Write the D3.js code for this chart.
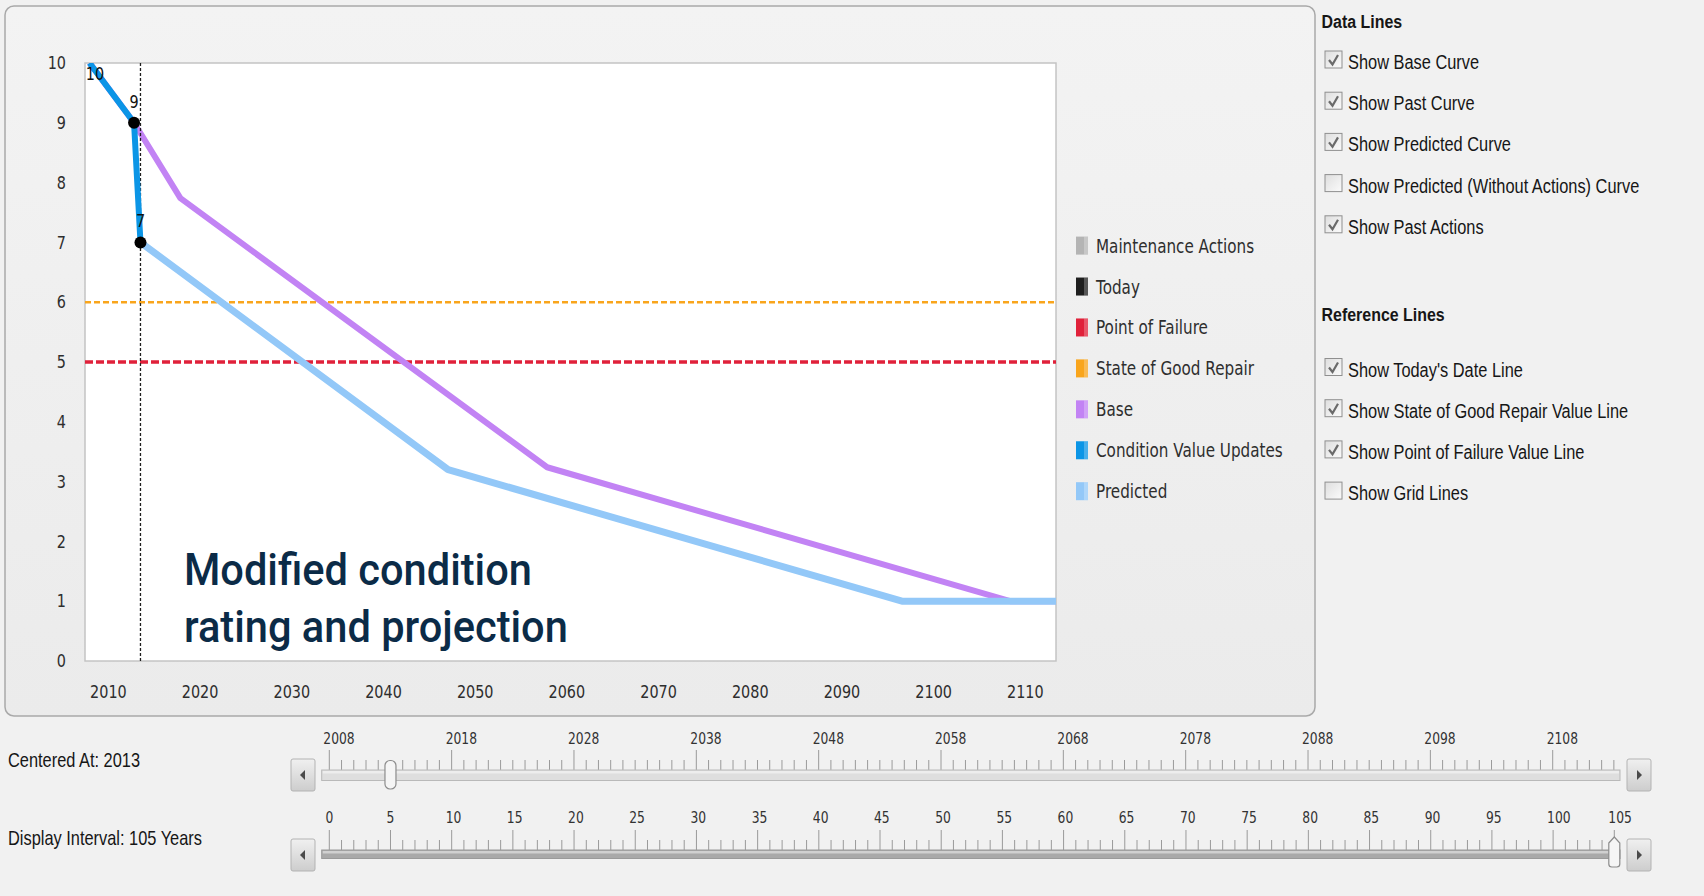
<!DOCTYPE html>
<html>
<head>
<meta charset="utf-8">
<script src="https://cdnjs.cloudflare.com/ajax/libs/d3/7.8.5/d3.min.js"></script>
<style>
    body { margin: 0; background: #f1f1f1; overflow: hidden; }
    svg { display: block; }
    .axis-label { font-family: "DejaVu Sans", sans-serif; font-size: 18px; fill: #2e2e2e; }
    .legend-label { font-family: "DejaVu Sans", sans-serif; font-size: 19px; fill: #2e2e2e; }
    .slider-label { font-family: "DejaVu Sans", sans-serif; font-size: 16px; fill: #333; }
    .ui-label { font-family: "Liberation Sans", Arial, sans-serif; font-size: 21px; fill: #161616; }
    .ui-title { font-family: "Liberation Sans", Arial, sans-serif; font-size: 19px; font-weight: bold; fill: #161616; }
    .note { font-family: Roboto, "Liberation Sans", sans-serif; font-size: 45px; font-weight: 500; fill: #0b2b47; }
</style>
</head>
<body>
<div id="chart"></div>
<script>
// chart values
const conditionYears = [2008, 2012.85, 2013.55];
const conditionValues = [10, 9, 7];

const baseYears = [2008, 2012.85, 2017.9, 2057.9, 2108.4, 2113.4];
const baseValues = [10, 9, 7.74, 3.24, 1, 1];

const predictedYears = [2013.55, 2047.1, 2096.6, 2113.4];
const predictedValues = [7, 3.2, 1, 1];

const todayYear = 2013.55;
const goodRepairValue = 6;
const failureValue = 5;

const yTicks = [0, 1, 2, 3, 4, 5, 6, 7, 8, 9, 10];
const xTicks = [2010, 2020, 2030, 2040, 2050, 2060, 2070, 2080, 2090, 2100, 2110];

const legendLabels = ["Maintenance Actions", "Today", "Point of Failure", "State of Good Repair",
    "Base", "Condition Value Updates", "Predicted"];

const dataLineLabels = ["Show Base Curve", "Show Past Curve", "Show Predicted Curve",
    "Show Predicted (Without Actions) Curve", "Show Past Actions"];
const dataLineChecked = [true, true, true, false, true];
const referenceLabels = ["Show Today's Date Line", "Show State of Good Repair Value Line",
    "Show Point of Failure Value Line", "Show Grid Lines"];
const referenceChecked = [true, true, true, false];

const centeredTicks = [2008, 2018, 2028, 2038, 2048, 2058, 2068, 2078, 2088, 2098, 2108];
const intervalTicks = [0, 5, 10, 15, 20, 25, 30, 35, 40, 45, 50, 55, 60, 65, 70, 75, 80, 85, 90, 95, 100, 105];
const centeredAt = 2013;
const displayInterval = 105;

// squeeze text horizontally (the screenshot is stretched vertically)
function condense(sel, f) {
    sel.each(function () {
        let t = d3.select(this);
        let x = +t.attr("x") || 0, y = +t.attr("y") || 0;
        t.attr("x", 0).attr("y", 0)
            .attr("transform", `translate(${x},${y}) scale(${f},1)`)
            .attr("data-w", this.getComputedTextLength() * f);
    });
}

class ConditionVis {
    constructor(_parentElement) {
        this.parentElement = _parentElement;
        this.colors = {
            maintenance: "#b4b4b4", today: "#1e1e1e", failure: "#e0213a", goodRepair: "#f9a51c",
            base: "#c283f4", condition: "#0b95e6", predicted: "#93c8f8"
        };
        this.initVis();
    }

    initVis() {
        let vis = this;
        vis.width = 1704;
        vis.height = 896;

        vis.svg = d3.select("#" + vis.parentElement).append("svg")
            .attr("width", vis.width)
            .attr("height", vis.height);

        let defs = vis.svg.append("defs");
        let panelGrad = defs.append("linearGradient").attr("id", "panelGrad").attr("x1", 0).attr("y1", 0).attr("x2", 0).attr("y2", 1);
        panelGrad.append("stop").attr("offset", "0%").attr("stop-color", "#f3f3f3");
        panelGrad.append("stop").attr("offset", "100%").attr("stop-color", "#ebebeb");
        let btnGrad = defs.append("linearGradient").attr("id", "btnGrad").attr("x1", 0).attr("y1", 0).attr("x2", 0).attr("y2", 1);
        btnGrad.append("stop").attr("offset", "0%").attr("stop-color", "#f0f0f0");
        btnGrad.append("stop").attr("offset", "100%").attr("stop-color", "#cdcdcd");
        let boxGrad = defs.append("linearGradient").attr("id", "boxGrad").attr("x1", 0).attr("y1", 0).attr("x2", 1).attr("y2", 1);
        boxGrad.append("stop").attr("offset", "0%").attr("stop-color", "#dedede");
        boxGrad.append("stop").attr("offset", "100%").attr("stop-color", "#fbfbfb");

        // background + panel
        vis.svg.append("rect").attr("width", vis.width).attr("height", vis.height).attr("fill", "#f1f1f1");
        vis.svg.append("rect")
            .attr("x", 5).attr("y", 6).attr("width", 1310).attr("height", 710).attr("rx", 9)
            .attr("fill", "url(#panelGrad)").attr("stroke", "#a9a9a9").attr("stroke-width", 1.5);

        // plot area
        vis.plot = {left: 85, top: 63, right: 1056, bottom: 661};
        vis.x = d3.scaleLinear().domain([2007.5, 2113.4]).range([vis.plot.left, vis.plot.right]);
        vis.y = d3.scaleLinear().domain([0, 10]).range([vis.plot.bottom, vis.plot.top]);

        vis.svg.append("rect")
            .attr("x", vis.plot.left).attr("y", vis.plot.top)
            .attr("width", vis.plot.right - vis.plot.left).attr("height", vis.plot.bottom - vis.plot.top)
            .attr("fill", "#fff").attr("stroke", "#c4c4c4").attr("stroke-width", 1.5);

        defs.append("clipPath").attr("id", "clip").append("rect")
            .attr("x", vis.plot.left).attr("y", vis.plot.top)
            .attr("width", vis.plot.right - vis.plot.left).attr("height", vis.plot.bottom - vis.plot.top);

        // axes (labels only)
        vis.yAxis = vis.svg.append("g").attr("transform", `translate(${vis.plot.left - 19},0)`)
            .call(d3.axisLeft(vis.y).tickValues(yTicks).tickSize(0).tickPadding(0).tickFormat(d3.format("d")));
        vis.xAxis = vis.svg.append("g").attr("transform", `translate(0,${vis.plot.bottom + 24})`)
            .call(d3.axisBottom(vis.x).tickValues(xTicks).tickSize(0).tickPadding(0).tickFormat(d3.format("d")));
        [vis.yAxis, vis.xAxis].forEach(a => {
            a.select(".domain").remove();
            a.selectAll("text").attr("class", "axis-label").attr("font-size", null).attr("font-family", null).attr("fill", null);
            condense(a.selectAll("text"), 0.8);
        });

        vis.chart = vis.svg.append("g").attr("clip-path", "url(#clip)");

        // reference lines
        vis.chart.append("line")
            .attr("x1", vis.plot.left).attr("x2", vis.plot.right)
            .attr("y1", vis.y(goodRepairValue)).attr("y2", vis.y(goodRepairValue))
            .attr("stroke", vis.colors.goodRepair).attr("stroke-width", 2.5).attr("stroke-dasharray", "6,3");
        vis.chart.append("line")
            .attr("x1", vis.plot.left).attr("x2", vis.plot.right)
            .attr("y1", vis.y(failureValue)).attr("y2", vis.y(failureValue))
            .attr("stroke", vis.colors.failure).attr("stroke-width", 3.5).attr("stroke-dasharray", "8,3");

        // data lines
        let line = d3.line().x(d => vis.x(d[0])).y(d => vis.y(d[1]));
        vis.chart.append("path")
            .datum(d3.zip(baseYears, baseValues))
            .attr("d", line).attr("fill", "none")
            .attr("stroke", vis.colors.base).attr("stroke-width", 6).attr("stroke-linejoin", "round");
        vis.chart.append("path")
            .datum(d3.zip(predictedYears, predictedValues))
            .attr("d", line).attr("fill", "none")
            .attr("stroke", vis.colors.predicted).attr("stroke-width", 7).attr("stroke-linejoin", "round");

        // today line
        vis.chart.append("line")
            .attr("x1", vis.x(todayYear)).attr("x2", vis.x(todayYear))
            .attr("y1", vis.plot.top).attr("y2", vis.plot.bottom)
            .attr("stroke", vis.colors.today).attr("stroke-width", 1.3).attr("stroke-dasharray", "3,2");

        vis.chart.append("path")
            .datum(d3.zip(conditionYears, conditionValues))
            .attr("d", line).attr("fill", "none")
            .attr("stroke", vis.colors.condition).attr("stroke-width", 6).attr("stroke-linejoin", "round");

        let condPts = d3.zip(conditionYears, conditionValues);
        vis.chart.selectAll(".cond-dot").data(condPts.slice(1)).enter().append("circle")
            .attr("cx", d => vis.x(d[0])).attr("cy", d => vis.y(d[1])).attr("r", 6).attr("fill", "#000");
        let condLabels = vis.svg.selectAll(".cond-label").data(condPts).enter().append("text")
            .attr("class", "axis-label")
            .attr("x", d => Math.max(vis.x(d[0]), vis.plot.left + 10))
            .attr("y", d => Math.max(vis.y(d[1]) - 15, vis.plot.top + 17))
            .attr("text-anchor", "middle").style("fill", "#111")
            .text(d => d[1]);
        condense(condLabels, 0.8);

        // annotation
        let note = vis.svg.append("g");
        let n1 = note.append("text").attr("class", "note").attr("x", 184).attr("y", 585).text("Modified condition");
        let n2 = note.append("text").attr("class", "note").attr("x", 184).attr("y", 642).text("rating and projection");
        let f = 348 / n1.node().getComputedTextLength();
        condense(n1, f);
        condense(n2, f);

        // legend
        let legendKeys = ["maintenance", "today", "failure", "goodRepair", "base", "condition", "predicted"];
        let legendY = d3.scalePoint().domain(legendLabels).range([245.6, 491.2]);
        let legend = vis.svg.append("g").selectAll("g").data(legendLabels).enter().append("g")
            .attr("transform", d => `translate(1076,${legendY(d)})`);
        legend.append("rect").attr("x", 0).attr("y", -9).attr("width", 12).attr("height", 18)
            .attr("fill", (d, i) => vis.colors[legendKeys[i]]);
        legend.append("rect").attr("x", 8).attr("y", -9).attr("width", 4).attr("height", 18)
            .attr("fill", "#fff").attr("opacity", 0.25);
        let legendText = legend.append("text").attr("class", "legend-label").attr("x", 20).attr("y", 7).text(d => d);
        condense(legendText, 0.8);

        // right option panel
        vis.drawOptions("Data Lines", 28, dataLineLabels, dataLineChecked, 61);
        vis.drawOptions("Reference Lines", 321, referenceLabels, referenceChecked, 368.5);

        // sliders
        vis.drawSlider({
            label: "Centered At: " + centeredAt, labelY: 767,
            scale: d3.scaleLinear().domain([2008, 2108]).range([329.3, 1552.7]),
            min: 2008, max: 2113, majorEvery: 10, ticks: centeredTicks, value: centeredAt,
            trackY: 770, labelBase: 744, filled: false
        });
        vis.drawSlider({
            label: "Display Interval: " + displayInterval + " Years", labelY: 845,
            scale: d3.scaleLinear().domain([0, 105]).range([329.3, 1614.3]),
            min: 0, max: 105, majorEvery: 5, ticks: intervalTicks, value: displayInterval,
            trackY: 850, labelBase: 823, filled: true
        });
    }

    drawOptions(title, titleY, labels, checked, startY) {
        let vis = this;
        let t = vis.svg.append("text").attr("class", "ui-title").attr("x", 1321.5).attr("y", titleY).text(title);
        condense(t, 0.84);
        let rows = vis.svg.append("g").selectAll("g").data(labels).enter().append("g")
            .attr("transform", (d, i) => `translate(1325,${startY + i * 41.2})`);
        rows.append("rect").attr("x", 0).attr("y", -10).attr("width", 17).attr("height", 17)
            .attr("fill", "url(#boxGrad)").attr("stroke", "#8f8f8f").attr("stroke-width", 1);
        rows.filter((d, i) => checked[i]).append("path")
            .attr("d", "M4,-1 L7.5,3.5 L13,-6")
            .attr("fill", "none").attr("stroke", "#6a6a6a").attr("stroke-width", 2.2);
        let txt = rows.append("text").attr("class", "ui-label").attr("x", 23).attr("y", 8).text(d => d);
        condense(txt, 0.78);
    }

    drawSlider(o) {
        let vis = this;
        let g = vis.svg.append("g");
        let lab = g.append("text").attr("class", "ui-label").attr("x", 8).attr("y", o.labelY)
            .style("font-size", "20px").text(o.label);
        condense(lab, 0.82);

        let x0 = 321.7, x1 = 1620;

        // ticks
        let all = d3.range(o.min, o.max + 1);
        g.selectAll(".tk").data(all).enter().append("line")
            .attr("x1", d => o.scale(d)).attr("x2", d => o.scale(d))
            .attr("y1", d => ((d - o.min) % o.majorEvery === 0) ? o.trackY - 20 : o.trackY - 10)
            .attr("y2", o.trackY)
            .attr("stroke", "#9a9a9a").attr("stroke-width", 1);

        let tl = g.selectAll(".tl").data(o.ticks).enter().append("text")
            .attr("class", "slider-label").attr("y", o.labelBase)
            .attr("x", d => o.scale(d)).text(d => d);
        tl.each(function (d) {
            let w = this.getComputedTextLength() * 0.77;
            d3.select(this).attr("x", o.scale(d) - Math.min(6, w / 2));
        });
        condense(tl, 0.77);

        // track
        g.append("rect").attr("x", x0).attr("y", o.trackY).attr("width", x1 - x0).attr("height", o.filled ? 8.5 : 10.5)
            .attr("fill", o.filled ? "#a9a9a9" : "#dedede").attr("stroke", o.filled ? "#9a9a9a" : "#b9b9b9");
        g.append("rect").attr("x", x0 + 1).attr("y", o.trackY + 1).attr("width", x1 - x0 - 2).attr("height", 2.5)
            .attr("fill", "#fff").attr("opacity", 0.45);

        // thumb
        let tx = o.scale(o.value);
        if (!o.filled) {
            g.append("rect").attr("x", tx - 5.5).attr("y", o.trackY - 9.5).attr("width", 11).attr("height", 28.5).attr("rx", 5)
                .attr("fill", "#f5f5f5").attr("stroke", "#8c8c8c").attr("stroke-width", 1.2);
        } else {
            let top = o.trackY - 13, bot = o.trackY + 17;
            g.append("path")
                .attr("d", `M${tx - 5.5},${top + 6} L${tx},${top} L${tx + 5.5},${top + 6} L${tx + 5.5},${bot - 3} Q${tx + 5.5},${bot} ${tx + 2.5},${bot} L${tx - 2.5},${bot} Q${tx - 5.5},${bot} ${tx - 5.5},${bot - 3} Z`)
                .attr("fill", "#f5f5f5").attr("stroke", "#8c8c8c").attr("stroke-width", 1.2);
        }

        // arrow buttons
        let by = o.trackY - 11;
        [{x: 291, dir: -1}, {x: 1627, dir: 1}].forEach(b => {
            g.append("rect").attr("x", b.x).attr("y", by).attr("width", 24).attr("height", 32).attr("rx", 2)
                .attr("fill", "url(#btnGrad)").attr("stroke", "#b3b3b3");
            let cx = b.x + 12, cy = by + 16;
            g.append("path")
                .attr("d", b.dir < 0
                    ? `M${cx + 2},${cy - 5} L${cx - 3},${cy} L${cx + 2},${cy + 5} Z`
                    : `M${cx - 2},${cy - 5} L${cx + 3},${cy} L${cx - 2},${cy + 5} Z`)
                .attr("fill", "#4a4a4a");
        });
    }
}

new ConditionVis("chart");
</script>
</body>
</html>
